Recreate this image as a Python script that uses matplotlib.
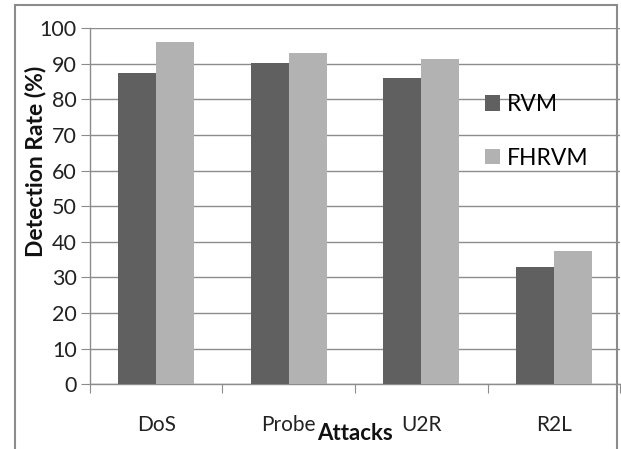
import matplotlib.pyplot as plt
import numpy as np
from matplotlib.patches import Rectangle

# Detection rates
attacks = ['DoS', 'Probe', 'U2R', 'R2L']
rvm = [87.4, 90.1, 86.0, 33.0]
fhrvm = [96.0, 93.1, 91.4, 37.3]
y_ticks = [0, 10, 20, 30, 40, 50, 60, 70, 80, 90, 100]

plt.rcParams['font.family'] = ['Lato', 'DejaVu Sans']

fig = plt.figure(figsize=(6.21, 4.49), dpi=100)
ax = fig.add_axes([0.1449, 0.1441, 0.8535, 0.7935])

# outer chart border
fig.patches.append(Rectangle((15 / 621, -0.05), 602 / 621, 1.05 - 5 / 449,
                             transform=fig.transFigure, fill=False,
                             edgecolor='#8c8c8c', linewidth=1.5))

x = np.arange(len(attacks))
w = 0.285
ax.bar(x - w / 2, rvm, w, color='#606060', label='RVM', zorder=3)
ax.bar(x + w / 2, fhrvm, w, color='#b2b2b2', label='FHRVM', zorder=3)

ax.set_xlim(-0.5, len(attacks) - 0.5)
ax.set_ylim(0, 100)
ax.set_yticks(y_ticks)
ax.yaxis.grid(True, color='#8c8c8c', linewidth=1.0, zorder=0)

ax.set_xticks(np.arange(len(attacks) + 1) - 0.5)
ax.set_xticklabels([])
ax.set_xticks(x, attacks, minor=True)
ax.tick_params(axis='x', which='minor', length=0, pad=22, labelsize=15,
               colors='#222222')
ax.tick_params(axis='x', which='major', length=6.5, color='#8c8c8c')
ax.tick_params(axis='y', length=6.5, color='#8c8c8c', labelsize=15.5,
               labelcolor='#222222', pad=3)

for s in ['top', 'right']:
    ax.spines[s].set_visible(False)
for s in ['left', 'bottom']:
    ax.spines[s].set_color('#8c8c8c')
    ax.spines[s].set_linewidth(1.0)

fig.text(36 / 621, 1 - 161 / 449, 'Detection Rate (%)', rotation=90,
         ha='center', va='center', fontsize=16.5, fontweight='bold',
         color='#111111')
fig.text(355 / 621, 1 - 434 / 449, 'Attacks', ha='center', va='center',
         fontsize=16, fontweight='bold', color='#111111')

ax.legend(loc='upper left', bbox_to_anchor=(485 / 621, 1 - 94 / 449),
          bbox_transform=fig.transFigure, frameon=False, fontsize=16.5,
          borderpad=0, borderaxespad=0,
          handlelength=0.65, handleheight=0.65, handletextpad=0.3,
          labelspacing=1.43)

fig.savefig('out.png', dpi=100, facecolor='white')
